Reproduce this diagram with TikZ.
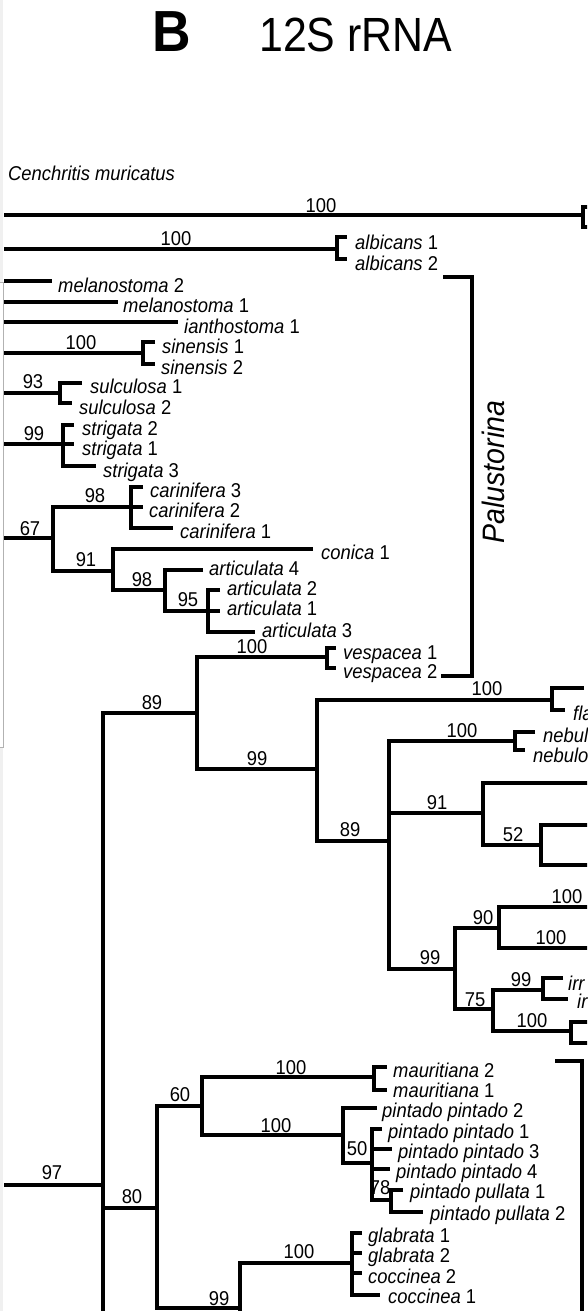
\documentclass[tikz,border=0pt]{standalone}
\usepackage{fontspec}
\setmainfont{Liberation Sans}[FakeStretch=0.92]
\newcommand\spn[1]{\textit{#1}}
\begin{document}
\begin{tikzpicture}[x=1pt,y=-1pt,
  br/.style={line width=3.5pt,line join=miter},
  tipl/.style={anchor=base west,inner sep=0pt,font=\fontsize{20pt}{24pt}\selectfont},
  bs/.style={anchor=base,inner sep=0pt,font=\fontsize{20pt}{24pt}\selectfont}]
\useasboundingbox (0,0) rectangle (587,1311);
\fill[white] (0,0) rectangle (587,1311);
\clip (0,0) rectangle (587,1311);
% left margin strip of neighbouring panel
\fill[gray!12] (0,0) rectangle (3,1311);
\fill[white] (0,282) rectangle (3,747);
\draw[gray!60,line width=1pt] (0,282) -- (3.3,282) -- (3.3,747) -- (0,747);

% title
\node[anchor=base west,inner sep=0pt,font=\fontsize{58pt}{60pt}\selectfont\bfseries] (panel) at (152,52) {B};
\node[anchor=base west,inner sep=0pt,xscale=0.97,font=\fontsize{48pt}{50pt}\selectfont] (title) at (259,52) {12S rRNA};

\node[tipl] (cen) at (8,180) {\spn{Cenchritis muricatus}};

% ---------- branches ----------
\draw[br] (4,215) -- (583,215);
\draw[br] (592,207) -- (583,207) -- (583,227) -- (592,227);
\draw[br] (4,249) -- (337,249);
\draw[br] (347,237) -- (337,237) -- (337,259) -- (347,259);
% Palustorina bracket
\draw[br] (443,277) -- (472,277) -- (472,676) -- (441,676);
\draw[br] (4,281) -- (52,281);
\draw[br] (4,302) -- (118,302);
\draw[br] (4,322) -- (178,322);
\draw[br] (4,353) -- (143,353);
\draw[br] (155,342) -- (143,342) -- (143,364) -- (155,364);
\draw[br] (4,393) -- (60,393);
\draw[br] (82,383) -- (60,383) -- (60,403) -- (72,403);
\draw[br] (4,444) -- (74,444);
\draw[br] (74,425) -- (63,425) -- (63,466) -- (96,466);
\draw[br] (4,538) -- (53,538);
\draw[br] (131,507) -- (53,507) -- (53,571) -- (113,571);
\draw[br] (143,487) -- (131,487) -- (131,528) -- (173,528);
\draw[br] (131,507) -- (143,507);
\draw[br] (313,549) -- (113,549) -- (113,590) -- (165,590);
\draw[br] (203,570) -- (165,570) -- (165,611) -- (208,611);
\draw[br] (220,590) -- (208,590) -- (208,632) -- (255,632);
\draw[br] (208,611) -- (220,611);
% lower big clade
\draw[br] (197,713) -- (103,713) -- (103,1320);
\draw[br] (4,1185) -- (103,1185);
\draw[br] (327,657) -- (197,657) -- (197,769) -- (317,769);
\draw[br] (336,648) -- (327,648) -- (327,668) -- (336,668);
\draw[br] (552,700) -- (317,700) -- (317,841) -- (389,841);
\draw[br] (584,688) -- (552,688) -- (552,710) -- (565,710);
\draw[br] (515,741) -- (389,741) -- (389,969) -- (455,969);
\draw[br] (389,813) -- (483,813);
\draw[br] (535,732) -- (515,732) -- (515,750) -- (525,750);
\draw[br] (592,783) -- (483,783) -- (483,845) -- (541,845);
\draw[br] (592,825) -- (541,825) -- (541,865) -- (592,865);
\draw[br] (499,928) -- (455,928) -- (455,1009) -- (493,1009);
\draw[br] (592,907) -- (499,907) -- (499,948) -- (592,948);
\draw[br] (543,990) -- (493,990) -- (493,1031) -- (571,1031);
\draw[br] (563,978) -- (543,978) -- (543,999) -- (568,999);
\draw[br] (592,1022) -- (571,1022) -- (571,1043) -- (592,1043);
\draw[br] (555,1061) -- (582,1061) -- (582,1320);
\draw[br] (103,1208) -- (157,1208);
\draw[br] (202,1106) -- (157,1106) -- (157,1308) -- (240,1308);
\draw[br] (374,1077) -- (202,1077) -- (202,1135) -- (343,1135);
\draw[br] (387,1067) -- (374,1067) -- (374,1090) -- (387,1090);
\draw[br] (377,1108) -- (343,1108) -- (343,1163) -- (372,1163);
\draw[br] (382,1129) -- (372,1129) -- (372,1200) -- (391,1200);
\draw[br] (372,1149) -- (392,1149);
\draw[br] (372,1169) -- (390,1169);
\draw[br] (403,1190) -- (391,1190) -- (391,1212) -- (423,1212);
\draw[br] (240,1320) -- (240,1263) -- (352,1263);
\draw[br] (362,1233) -- (352,1233) -- (352,1295) -- (380,1295);
\draw[br] (352,1253) -- (362,1253);
\draw[br] (352,1273) -- (362,1273);

% ---------- support values ----------
\node[bs] (s1) at (321,212) {100};
\node[bs] (s2) at (176,245) {100};
\node[bs] (s3) at (81,349) {100};
\node[bs] (s4) at (33,388) {93};
\node[bs] (s5) at (34,440) {99};
\node[bs] (s6) at (95,502) {98};
\node[bs] (s7) at (30,535) {67};
\node[bs] (s8) at (86,566) {91};
\node[bs] (s9) at (142,586) {98};
\node[bs] (s10) at (188,606) {95};
\node[bs] (s11) at (252,653) {100};
\node[bs] (s12) at (152,709) {89};
\node[bs] (s13) at (257,765) {99};
\node[bs] (s14) at (487,695) {100};
\node[bs] (s15) at (462,737) {100};
\node[bs] (s16) at (437,809) {91};
\node[bs] (s17) at (350,836) {89};
\node[bs] (s18) at (513,841) {52};
\node[bs] (s19) at (567,903) {100};
\node[bs] (s20) at (483,924) {90};
\node[bs] (s21) at (551,944) {100};
\node[bs] (s22) at (430,964) {99};
\node[bs] (s23) at (521,986) {99};
\node[bs] (s24) at (475,1006) {75};
\node[bs] (s25) at (532,1027) {100};
\node[bs] (s26) at (52,1179) {97};
\node[bs] (s27) at (132,1203) {80};
\node[bs] (s28) at (180,1101) {60};
\node[bs] (s29) at (291,1074) {100};
\node[bs] (s30) at (276,1132) {100};
\node[bs] (s31) at (357,1155) {50};
\node[bs] (s32) at (380,1194) {78};
\node[bs] (s33) at (299,1258) {100};
\node[bs] (s34) at (219,1305) {99};

% ---------- tip labels ----------
\node[tipl] (t1) at (355,249) {\spn{albicans} 1};
\node[tipl] (t2) at (355,270) {\spn{albicans} 2};
\node[tipl] (t3) at (58,292) {\spn{melanostoma} 2};
\node[tipl] (t4) at (123,312) {\spn{melanostoma} 1};
\node[tipl] (t5) at (184,333) {\spn{ianthostoma} 1};
\node[tipl] (t6) at (162,353) {\spn{sinensis} 1};
\node[tipl] (t7) at (161,374) {\spn{sinensis} 2};
\node[tipl] (t8) at (90,393) {\spn{sulculosa} 1};
\node[tipl] (t9) at (79,414) {\spn{sulculosa} 2};
\node[tipl] (t10) at (82,435) {\spn{strigata} 2};
\node[tipl] (t11) at (82,455) {\spn{strigata} 1};
\node[tipl] (t12) at (103,477) {\spn{strigata} 3};
\node[tipl] (t13) at (150,497) {\spn{carinifera} 3};
\node[tipl] (t14) at (149,517) {\spn{carinifera} 2};
\node[tipl] (t15) at (180,538) {\spn{carinifera} 1};
\node[tipl] (t16) at (321,559) {\spn{conica} 1};
\node[tipl] (t17) at (209,575) {\spn{articulata} 4};
\node[tipl] (t18) at (227,595) {\spn{articulata} 2};
\node[tipl] (t19) at (227,615) {\spn{articulata} 1};
\node[tipl] (t20) at (262,637) {\spn{articulata} 3};
\node[tipl] (t21) at (343,659) {\spn{vespacea} 1};
\node[tipl] (t22) at (343,678) {\spn{vespacea} 2};
\node[tipl] (t23) at (573,720) {\spn{fla}};
\node[tipl] (t24) at (543,742) {\spn{nebulo}};
\node[tipl] (t25) at (533,762) {\spn{nebulo}};
\node[tipl] (t26) at (568,990) {\spn{irr}};
\node[tipl] (t27) at (577,1008) {\spn{ir}};
\node[tipl] (t28) at (393,1077) {\spn{mauritiana} 2};
\node[tipl] (t29) at (393,1097) {\spn{mauritiana} 1};
\node[tipl] (t30) at (382,1117) {\spn{pintado pintado} 2};
\node[tipl] (t31) at (388,1138) {\spn{pintado pintado} 1};
\node[tipl] (t32) at (398,1158) {\spn{pintado pintado} 3};
\node[tipl] (t33) at (396,1178) {\spn{pintado pintado} 4};
\node[tipl] (t34) at (410,1198) {\spn{pintado pullata} 1};
\node[tipl] (t35) at (430,1220) {\spn{pintado pullata} 2};
\node[tipl] (t36) at (368,1242) {\spn{glabrata} 1};
\node[tipl] (t37) at (368,1262) {\spn{glabrata} 2};
\node[tipl] (t38) at (368,1283) {\spn{coccinea} 2};
\node[tipl] (t39) at (388,1303) {\spn{coccinea} 1};

\node[rotate=90,inner sep=0pt,font=\fontsize{31pt}{33pt}\selectfont\itshape] (pal) at (493,472) {Palustorina};
\end{tikzpicture}
\end{document}
